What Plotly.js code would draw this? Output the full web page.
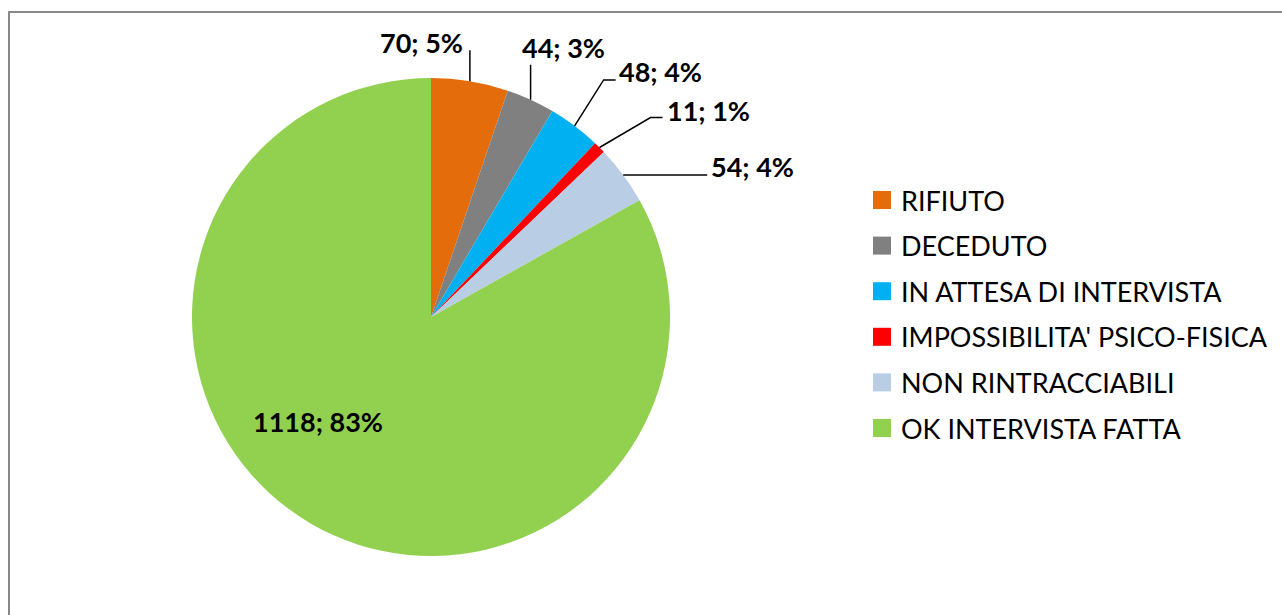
<!DOCTYPE html>
<html>
<head>
<meta charset="utf-8">
<script src="https://cdn.plot.ly/plotly-3.0.1.min.js"></script>
<style>html,body{margin:0;padding:0;background:#fff;}#chart{width:1282px;height:615px;}</style>
</head>
<body>
<div id="chart"></div>
<script>
// ---- data ----
const categories = ["RIFIUTO", "DECEDUTO", "IN ATTESA DI INTERVISTA", "IMPOSSIBILITA' PSICO-FISICA", "NON RINTRACCIABILI", "OK INTERVISTA FATTA"];
const values = [70, 44, 48, 11, 54, 1118];
const colors = ["#E46C0A", "#808080", "#00B0F0", "#FF0000", "#B9CDE5", "#92D050"];

// ---- layout constants (pixels) ----
const W = 1282, H = 615;
const CX = 431, CY = 317, R = 239;
// label offsets relative to slice edge midpoint; leader polyline points relative to same
const labelOffsets = [[-48, -39], [33, -52], [86, -54], [109, -37], [129, -8], null];
const leaderPts = [[[0, -31]], [[0, -35]], [[29, -46], [41, -46]], [[51, -30], [63, -30]], [[84, 0]], null];
const insideOffset = [-113, 104];

const px = x => x / W;
const py = y => 1 - y / H;
const FONT = "Lato, 'Liberation Sans', sans-serif";
const FS = 27;

const total = values.reduce((a, b) => a + b, 0);
const annotations = [];
const shapes = [];
let cum = 0;
values.forEach((v, i) => {
  const mid = (cum + v / 2) / total * 2 * Math.PI;
  cum += v;
  const ex = CX + R * Math.sin(mid), ey = CY - R * Math.cos(mid);
  const pct = Math.round(v / total * 100);
  const txt = "<b>" + v + "; " + pct + "%</b>";
  let lx, ly;
  if (labelOffsets[i]) {
    lx = ex + labelOffsets[i][0]; ly = ey + labelOffsets[i][1];
    let d = "M " + px(ex) + " " + py(ey);
    leaderPts[i].forEach(p => { d += " L " + px(ex + p[0]) + " " + py(ey + p[1]); });
    shapes.push({type: "path", xref: "paper", yref: "paper", path: d, line: {color: "#000", width: 1.5}});
  } else {
    lx = CX + insideOffset[0]; ly = CY + insideOffset[1];
  }
  annotations.push({x: px(lx), y: py(ly), xref: "paper", yref: "paper", text: txt, showarrow: false,
    xanchor: "center", yanchor: "middle", font: {family: FONT, size: FS, color: "#000"}});
});

// custom legend
const LEG_X = 873, LEG_Y0 = 200, LEG_DY = 45.6, SQ = 18;
categories.forEach((c, i) => {
  const yc = LEG_Y0 + i * LEG_DY;
  shapes.push({type: "rect", xref: "paper", yref: "paper", x0: px(LEG_X), x1: px(LEG_X + SQ), y0: py(yc - SQ / 2), y1: py(yc + SQ / 2),
    fillcolor: colors[i], line: {width: 0}});
  annotations.push({x: px(LEG_X + SQ + 8), y: py(yc), xref: "paper", yref: "paper", text: c, showarrow: false,
    xanchor: "left", yanchor: "middle", font: {family: FONT, size: FS, color: "#000"}});
});

// chart frame
shapes.push({type: "rect", xref: "paper", yref: "paper", x0: px(9), x1: px(W + 10), y0: py(H + 10), y1: py(12),
  line: {color: "#898989", width: 2}, fillcolor: "rgba(0,0,0,0)"});

const trace = {
  type: "pie",
  labels: categories,
  values: values,
  sort: false,
  direction: "clockwise",
  rotation: 0,
  textinfo: "none",
  hoverinfo: "label+value+percent",
  marker: {colors: colors, line: {width: 0}},
  domain: {x: [px(CX - R), px(CX + R)], y: [py(CY + R), py(CY - R)]},
  showlegend: false
};

const layout = {
  width: W, height: H,
  margin: {l: 0, r: 0, t: 0, b: 0},
  paper_bgcolor: "#fff",
  showlegend: false,
  annotations: annotations,
  shapes: shapes,
  font: {family: FONT}
};

Plotly.newPlot("chart", [trace], layout, {displayModeBar: false, staticPlot: true});
</script>
</body>
</html>
